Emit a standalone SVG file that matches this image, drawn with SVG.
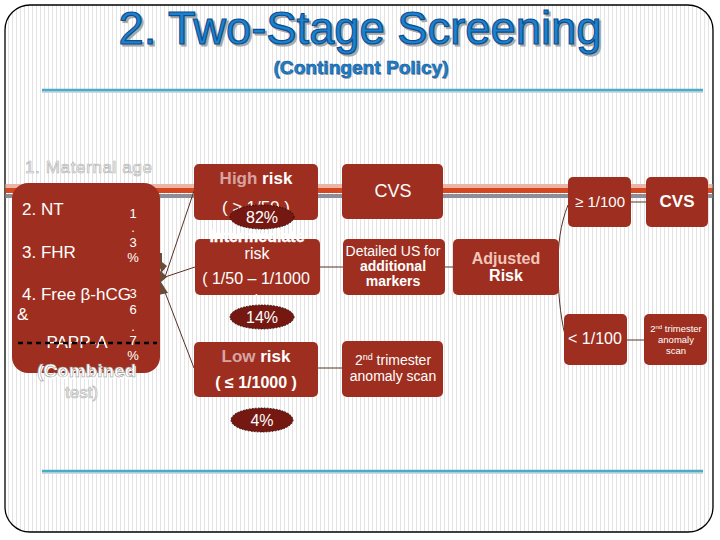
<svg xmlns="http://www.w3.org/2000/svg" width="720" height="540" viewBox="0 0 720 540">
<style>
.box{fill:#9e2f20}
.oval{fill:#751811;stroke:#2a0a05;stroke-width:1;stroke-dasharray:1.5 1.5}
.t{font-family:"Liberation Sans",Arial,sans-serif;fill:#fff}
.b{font-weight:bold}
.pink{fill:#d8a4a0}
.lpink{fill:#f2c6ba}
.ghost{fill:#f4f4f4;stroke:#b0b0b0;stroke-width:0.6}
.conn{stroke:#5a3025;stroke-width:1;fill:none}
.title{font-family:"Liberation Sans",Arial,sans-serif}
</style>
<defs>
<pattern id="stripes" width="4" height="4" patternUnits="userSpaceOnUse">
<rect width="4" height="4" fill="#ffffff"/>
<rect width="1" height="4" fill="#e3e3e3"/>
</pattern>
</defs>
<rect x="0" y="0" width="720" height="540" fill="#fff"/>
<rect x="5" y="5" width="708" height="527" rx="25" fill="url(#stripes)" stroke="#000" stroke-width="1.3"/>

<g id="title">
<text class="title" x="362" y="46" font-size="46" text-anchor="middle" textLength="483" lengthAdjust="spacingAndGlyphs" fill="#a8a8a8" stroke="#a8a8a8" stroke-width="1.2">2. Two-Stage  Screening</text>
<text class="title" x="360" y="44" font-size="46" text-anchor="middle" textLength="483" lengthAdjust="spacingAndGlyphs" fill="#1b82d2" stroke="#0b4f8f" stroke-width="1.2">2. Two-Stage  Screening</text>
<text class="title" x="362" y="75" font-size="19" font-weight="bold" text-anchor="middle" textLength="175" lengthAdjust="spacingAndGlyphs" fill="#a8a8a8">(Contingent  Policy)</text>
<text class="title" x="361" y="74" font-size="19" font-weight="bold" text-anchor="middle" textLength="175" lengthAdjust="spacingAndGlyphs" fill="#1b82d2" stroke="#0b4f8f" stroke-width="0.5">(Contingent  Policy)</text>
</g>

<g id="rules">
<line x1="42" y1="92" x2="703" y2="92" stroke="#c9d9e0" stroke-width="2"/>
<line x1="42" y1="90" x2="703" y2="90" stroke="#4bacc6" stroke-width="2.5"/>
<line x1="42" y1="473" x2="703" y2="473" stroke="#c9d9e0" stroke-width="2"/>
<line x1="42" y1="471" x2="703" y2="471" stroke="#4bacc6" stroke-width="2.5"/>
</g>

<g id="band">
<rect x="5.5" y="184" width="707" height="4" fill="#eab4a6"/>
<rect x="5.5" y="188" width="707" height="5" fill="#d4471f"/>
<rect x="5.5" y="194" width="707" height="4" fill="#8e8e9a"/>
</g>

<g id="connectors">
<line class="conn" x1="165" y1="277" x2="194" y2="191"/>
<line class="conn" x1="165" y1="277" x2="195" y2="267"/>
<line class="conn" x1="163" y1="287" x2="194" y2="368"/>
<line class="conn" x1="320" y1="267" x2="343" y2="267"/>
<line class="conn" x1="318" y1="368" x2="342" y2="368"/>
<line class="conn" x1="445" y1="267" x2="453" y2="267" stroke-width="1.5"/>
<path class="conn" d="M568 205 C560 225 558 245 558 267 C558 290 560 315 565 335"/>
<line class="conn" x1="631" y1="202" x2="646" y2="202" stroke-width="1.5"/>
<line class="conn" x1="627" y1="340" x2="644" y2="340" stroke-width="2.2" stroke="#7a2a20"/>
<path d="M158 253 L162 253 L162 262 L167 266 L162 272 L167 277 L161 282 L168 293 L158 295 L160 283 L158 276 L161 270 L158 265 Z" fill="#6b4a38"/>
</g>

<g id="maternal-age">
<text class="t ghost" x="25" y="173" font-size="17" textLength="127" lengthAdjust="spacing">1. Maternal  age</text>
</g>

<g id="combined">
<rect class="box" x="12" y="183" width="148" height="190" rx="16"/>
<text class="t" x="22" y="215" font-size="17">2. NT</text>
<text class="t" x="22" y="258" font-size="17">3. FHR</text>
<text class="t" x="22" y="300" font-size="17">4. Free β-hCG</text>
<text class="t" x="17" y="320" font-size="17">&amp;</text>
<text class="t" x="77" y="348" font-size="17" text-anchor="middle">PAPP-A</text>
<g font-size="13" text-anchor="middle">
<text class="t" x="133" y="218">1</text>
<text class="t" x="133" y="232">.</text>
<text class="t" x="133" y="247">3</text>
<text class="t" x="133" y="262">%</text>
<text class="t" x="133" y="298">3</text>
<text class="t" x="133" y="314">6</text>
<text class="t" x="133" y="331">.</text>
<text class="t" x="133" y="345">7</text>
<text class="t" x="133" y="360">%</text>
</g>
<line x1="18" y1="343" x2="157" y2="343" stroke="#000" stroke-width="2.5" stroke-dasharray="5 4"/>
<text class="t b" x="38" y="379" font-size="19" fill="#9a9a9a">(Combined</text>
<text class="t b" x="37" y="377" font-size="19" fill="#e0e0e0" stroke="#8a8a8a" stroke-width="0.5">(Combined</text>
<text class="t ghost" x="65" y="398" font-size="17">test)</text>
</g>

<g id="high-risk">
<rect class="box" x="194" y="164" width="124" height="56" rx="5"/>
<text class="t b" x="256" y="184" font-size="17" text-anchor="middle"><tspan class="pink">High</tspan>  risk</text>
<text class="t" x="256" y="213" font-size="17" text-anchor="middle">( ≥ 1/50 )</text>
<ellipse class="oval" cx="262" cy="217" rx="32" ry="12"/>
<text class="t" x="262" y="223" font-size="16" text-anchor="middle">82%</text>
</g>

<g id="intermediate-risk">
<rect class="box" x="195" y="239" width="125" height="56" rx="5"/>
<text class="t b" x="257" y="242" font-size="16" text-anchor="middle" fill="#f0c4bc" stroke="#fff" stroke-width="0.4">Intermediate</text>
<text class="t" x="257" y="259" font-size="16" text-anchor="middle">risk</text>
<text class="t" x="256" y="284" font-size="16" text-anchor="middle">( 1/50 – 1/1000</text>
<text class="t" x="258" y="306" font-size="16" text-anchor="middle">)</text>
<ellipse class="oval" cx="262" cy="317" rx="32" ry="12"/>
<text class="t" x="262" y="323" font-size="16" text-anchor="middle">14%</text>
</g>

<g id="low-risk">
<rect class="box" x="194" y="342" width="124" height="55" rx="5"/>
<text class="t b" x="256" y="362" font-size="17" text-anchor="middle"><tspan class="pink">Low</tspan>  risk</text>
<text class="t b" x="256" y="388" font-size="16" text-anchor="middle">( ≤ 1/1000 )</text>
<ellipse class="oval" cx="262" cy="420" rx="31" ry="12"/>
<text class="t" x="262" y="426" font-size="16" text-anchor="middle">4%</text>
</g>

<g id="cvs-1">
<rect class="box" x="342" y="164" width="101" height="55" rx="5"/>
<text class="t" x="393" y="197" font-size="18" text-anchor="middle">CVS</text>
</g>

<g id="detailed-us">
<rect class="box" x="343" y="239" width="102" height="56" rx="5"/>
<text class="t" x="393" y="256" font-size="14" text-anchor="middle">Detailed US for</text>
<text class="t b" x="393" y="271" font-size="14" text-anchor="middle">additional</text>
<text class="t b" x="393" y="286" font-size="14" text-anchor="middle">markers</text>
</g>

<g id="second-trimester-1">
<rect class="box" x="342" y="341" width="101" height="56" rx="5"/>
<text class="t" x="393" y="365" font-size="14" text-anchor="middle">2<tspan font-size="9" dy="-5">nd</tspan><tspan dy="5"> trimester</tspan></text>
<text class="t" x="393" y="381" font-size="14" text-anchor="middle">anomaly  scan</text>
</g>

<g id="adjusted-risk">
<rect class="box" x="453" y="239" width="106" height="56" rx="5"/>
<text class="t b lpink" x="506" y="264" font-size="16" text-anchor="middle">Adjusted</text>
<text class="t b" x="506" y="281" font-size="16" text-anchor="middle">Risk</text>
</g>

<g id="ge-1-100">
<rect class="box" x="568" y="177" width="63" height="50" rx="5"/>
<text class="t" x="600" y="207" font-size="15" text-anchor="middle">≥ 1/100</text>
</g>

<g id="cvs-2">
<rect class="box" x="646" y="177" width="62" height="50" rx="5"/>
<text class="t b" x="677" y="207" font-size="17" text-anchor="middle">CVS</text>
</g>

<g id="lt-1-100">
<rect class="box" x="564" y="314" width="63" height="51" rx="5"/>
<text class="t" x="595" y="344" font-size="16" text-anchor="middle">&lt; 1/100</text>
</g>

<g id="second-trimester-2">
<rect class="box" x="644" y="314" width="63" height="51" rx="5"/>
<text class="t" x="676" y="332" font-size="9.5" text-anchor="middle">2<tspan font-size="6" dy="-3">nd</tspan><tspan dy="3"> trimester</tspan></text>
<text class="t" x="676" y="343" font-size="9.5" text-anchor="middle">anomaly</text>
<text class="t" x="676" y="354" font-size="9.5" text-anchor="middle">scan</text>
</g>
</svg>
